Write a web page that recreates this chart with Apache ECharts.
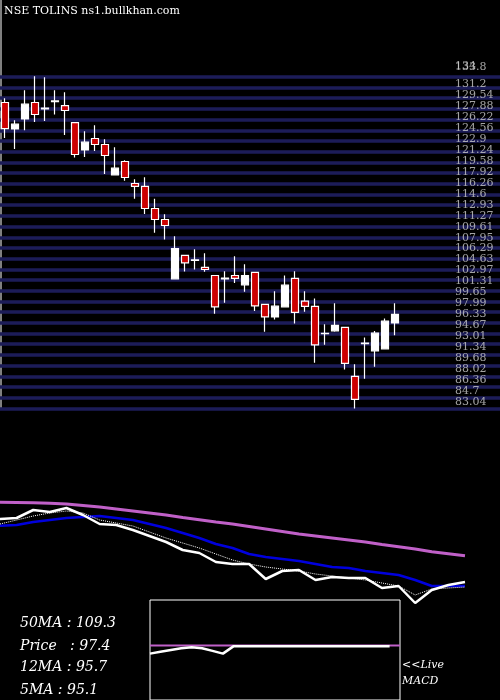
<!DOCTYPE html>
<html>
<head>
<meta charset="utf-8">
<script src="https://cdn.jsdelivr.net/npm/echarts@6/dist/echarts.min.js"></script>
<style>
  html, body { margin: 0; padding: 0; background: #000; }
  #chart { width: 500px; height: 700px; }
</style>
</head>
<body>
<div id="chart"></div>
<script>
// candles: [open, close, low, high]
const candles = [
  [128.46, 124.51, 123.09, 129.11], [124.45, 125.17, 121.42, 125.77],
  [125.97, 128.20, 124.26, 130.32], [128.46, 126.64, 125.52, 132.45],
  [127.60, 127.50, 125.67, 132.30], [128.60, 128.70, 126.64, 130.32],
  [128.00, 127.25, 123.54, 130.02], [125.42, 120.57, 120.12, 125.42],
  [121.27, 122.44, 120.21, 124.11], [123.00, 122.09, 121.12, 125.02],
  [122.09, 120.42, 117.63, 122.89], [117.48, 118.49, 117.48, 121.68],
  [119.51, 117.08, 116.57, 119.71], [116.17, 115.72, 113.84, 116.82],
  [115.72, 112.38, 111.56, 117.13], [112.38, 110.71, 108.68, 113.84],
  [110.71, 109.80, 107.68, 111.51], [101.70, 106.31, 101.70, 108.18],
  [105.25, 104.13, 102.82, 105.25], [104.58, 104.49, 103.12, 106.20],
  [103.43, 103.12, 102.76, 105.60], [102.21, 97.45, 96.39, 102.21],
  [101.80, 101.70, 98.06, 102.87], [102.21, 101.76, 101.09, 105.14],
  [100.79, 102.21, 99.73, 103.93], [102.67, 97.60, 96.84, 102.67],
  [97.82, 95.93, 93.66, 97.82], [95.93, 97.56, 95.54, 99.83],
  [97.45, 100.74, 97.45, 102.21], [101.76, 96.60, 94.93, 102.87],
  [98.32, 97.51, 96.69, 99.83], [97.51, 91.69, 88.96, 98.73],
  [93.38, 93.45, 91.69, 94.83], [93.81, 94.63, 93.66, 98.01],
  [94.33, 88.87, 87.96, 94.33], [86.89, 83.40, 82.04, 88.76],
  [91.85, 91.95, 86.53, 92.81], [90.78, 93.46, 88.35, 93.77],
  [91.08, 95.28, 91.08, 95.69], [95.02, 96.30, 93.16, 98.01]
];
const gridLevels = [82.04, 83.66, 85.29, 86.91, 88.53, 90.16, 91.78, 93.40, 95.02, 96.65,
  98.27, 99.89, 101.52, 103.14, 104.76, 106.39, 108.01, 109.63, 111.25, 112.88, 114.50,
  116.12, 117.75, 119.37, 120.99, 122.62, 124.24, 125.86, 127.49, 129.11, 130.73, 132.35];
const priceLabels = ['134', '133.8', '131.2', '129.54', '127.88', '126.22', '124.56', '122.9',
  '121.24', '119.58', '117.92', '116.26', '114.6', '112.93', '111.27', '109.61', '107.95',
  '106.29', '104.63', '102.97', '101.31', '99.65', '97.99', '96.33', '94.67', '93.01',
  '91.34', '89.68', '88.02', '86.36', '84.7', '83.04'];

// lower panel, indicator levels (bigger = lower on panel)
const ma50 = [502.3, 502.5, 502.7, 503.3, 504, 505.5, 507, 509, 511, 513, 515, 517.5, 519.7, 522,
  524, 526.5, 529, 531.5, 534, 536, 538, 540, 542, 544.5, 546.7, 549, 551.7, 553.7, 555.7];
const ma20 = [525.7, 525, 522, 520, 518, 517, 516, 518, 520, 524, 528, 533, 538, 544, 548, 554,
  557, 559, 561, 564, 567, 568, 571, 573, 575, 580, 586, 586, 586];
const ma5 = [519, 518, 510, 512, 508, 515, 524, 525, 530, 536, 542, 550, 553, 562, 564, 564,
  579, 571, 570, 580, 577, 578, 578, 588, 586, 603, 590, 585, 582];
const ma12 = [524, 520, 516, 513, 511, 513, 520, 523, 526, 532, 538, 543, 548, 554, 560, 564,
  567, 569, 571, 574, 576, 578, 580, 583, 586, 595, 589, 588, 587];

const macd = [659, 657, 655, 653, 652, 653, 656, 659, 651, 651, 651, 651, 651, 651, 651, 651,
  651, 651, 651, 651, 651, 651, 651, 651, 651];
const macdSignal = macd.map(() => 650);

const slots = Array.from({ length: 50 }, (_, i) => i);
const lowIdx = ma50.map((_, i) => i);
const macdIdx = macd.map((_, i) => i);

const serif = '"DejaVu Serif", "Liberation Serif", serif';
const chart = echarts.init(document.getElementById('chart'));

chart.setOption({
  backgroundColor: '#000',
  animation: false,
  grid: [
    { left: -2, width: 502, top: 66, height: 344 },
    { left: 0, width: 465, top: 495, height: 120 },
    { left: 150, width: 250, top: 600, height: 110, show: true, borderColor: '#fff', borderWidth: 1, backgroundColor: 'transparent' }
  ],
  xAxis: [
    { type: 'category', gridIndex: 0, data: slots, show: false },
    { type: 'category', gridIndex: 1, data: lowIdx, boundaryGap: false, show: false },
    { type: 'category', gridIndex: 2, data: macdIdx, boundaryGap: false, show: false }
  ],
  yAxis: [
    { type: 'value', gridIndex: 0, min: 81.8, max: 134.0, show: false },
    { type: 'value', gridIndex: 1, inverse: true, min: 495, max: 615, show: false },
    { type: 'value', gridIndex: 2, inverse: true, min: 600, max: 710, show: false }
  ],
  graphic: [
    { type: 'text', left: 4, top: 6, style: { text: 'NSE TOLINS ns1.bullkhan.com', fill: '#fff', font: '11px ' + serif } },
    { type: 'line', shape: { x1: 1, y1: 0, x2: 1, y2: 410 }, style: { stroke: '#fff', lineWidth: 1 } },
    { type: 'text', left: 20, top: 616, style: { text: '50MA : 109.3', fill: '#fff', font: 'italic 14px ' + serif } },
    { type: 'text', left: 20, top: 639, style: { text: 'Price   : 97.4', fill: '#fff', font: 'italic 14px ' + serif } },
    { type: 'text', left: 20, top: 660, style: { text: '12MA : 95.7', fill: '#fff', font: 'italic 14px ' + serif } },
    { type: 'text', left: 20, top: 683, style: { text: '5MA : 95.1', fill: '#fff', font: 'italic 14px ' + serif } },
    { type: 'text', left: 402, top: 660, style: { text: '<<Live', fill: '#fff', font: 'italic 11px ' + serif } },
    { type: 'text', left: 402, top: 676, style: { text: 'MACD', fill: '#fff', font: 'italic 11px ' + serif } }
  ],
  series: [
    {
      type: 'line', xAxisIndex: 0, yAxisIndex: 0, data: [], silent: true, z: 1,
      markLine: {
        symbol: 'none', silent: true, label: { show: false }, z: 1,
        lineStyle: { color: '#1c1c58', width: 3.5, type: 'solid' },
        data: gridLevels.map(v => ({ yAxis: v }))
      }
    },
    {
      type: 'candlestick', xAxisIndex: 0, yAxisIndex: 0, data: candles, barWidth: 7, z: 5,
      itemStyle: { color: '#fff', color0: '#cc0000', borderColor: '#fff', borderColor0: '#fff', borderWidth: 1.2 }
    },
    {
      type: 'scatter', xAxisIndex: 0, yAxisIndex: 0, symbolSize: 0, silent: true, z: 6,
      data: priceLabels.map(t => [45, parseFloat(t)]),
      label: {
        show: true, position: 'right', distance: 0,
        formatter: p => priceLabels[p.dataIndex],
        color: '#ccc', fontFamily: serif, fontSize: 11
      }
    },
    { type: 'line', xAxisIndex: 1, yAxisIndex: 1, data: ma50, symbol: 'none', lineStyle: { color: '#c060c8', width: 3 } },
    { type: 'line', xAxisIndex: 1, yAxisIndex: 1, data: ma20, symbol: 'none', lineStyle: { color: '#0000dd', width: 2.5 } },
    { type: 'line', xAxisIndex: 1, yAxisIndex: 1, data: ma12, symbol: 'none', lineStyle: { color: '#fff', width: 1, type: 'dotted' } },
    { type: 'line', xAxisIndex: 1, yAxisIndex: 1, data: ma5, symbol: 'none', lineStyle: { color: '#fff', width: 2.5 } },
    { type: 'line', xAxisIndex: 2, yAxisIndex: 2, data: macdSignal, symbol: 'none', lineStyle: { color: '#c060c8', width: 2 } },
    { type: 'line', xAxisIndex: 2, yAxisIndex: 2, data: macd.slice(0, 24), symbol: 'none', lineStyle: { color: '#fff', width: 2.5 } }
  ]
});
</script>
</body>
</html>
